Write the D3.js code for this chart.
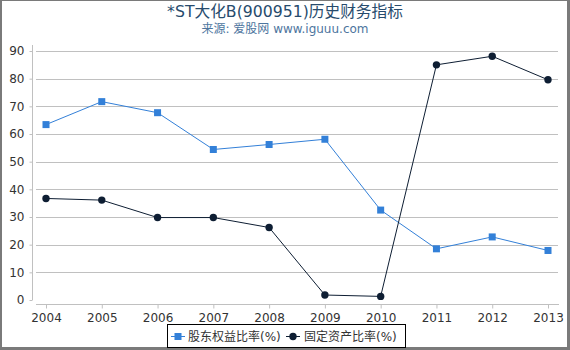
<!DOCTYPE html>
<html><head><meta charset="utf-8">
<script src="https://cdn.jsdelivr.net/npm/d3@7"></script>
<style>
html,body{margin:0;padding:0;background:#fff;}
svg{display:block;font-family:"DejaVu Sans","Noto Sans CJK SC",sans-serif;}
</style></head>
<body>
<svg id="chart" width="570" height="350"></svg>
<script>
const years = ["2004","2005","2006","2007","2008","2009","2010","2011","2012","2013"];
const equityRatio = [63.4, 71.7, 67.7, 54.4, 56.2, 58.1, 32.5, 18.5, 22.8, 17.9];
const fixedAssetRatio = [36.7, 36.1, 29.8, 29.8, 26.2, 1.8, 1.3, 85.0, 88.1, 79.6];
const yTicks = [0,10,20,30,40,50,60,70,80,90];
const seriesNames = ["股东权益比率(%)", "固定资产比率(%)"];
const titleText = "*ST大化B(900951)历史财务指标";
const subtitleText = "来源: 爱股网 www.iguuu.com";

const svg = d3.select("#chart");
const W = 570, H = 350;

// outer frame
svg.append("rect").attr("x",0.5).attr("y",0.5).attr("width",W-2).attr("height",H-2.5)
  .attr("fill","none").attr("stroke","#7a7a7a").attr("stroke-width",1);
svg.append("rect").attr("x",W-3).attr("y",0).attr("width",3).attr("height",H).attr("fill","#7a7a7a");
svg.append("rect").attr("x",0).attr("y",H-3).attr("width",W).attr("height",3).attr("fill","#7a7a7a");
svg.append("rect").attr("x",0).attr("y",0).attr("width",2).attr("height",H).attr("fill","#7a7a7a");

// titles
svg.append("text").attr("x",285).attr("y",17).attr("text-anchor","middle")
  .attr("font-size",15.7).attr("fill","#274b6d").text(titleText);
svg.append("text").attr("x",285).attr("y",33).attr("text-anchor","middle")
  .attr("font-size",12).attr("fill","#4d759e").text(subtitleText);

const x = d3.scalePoint().domain(years).range([46, 548]);
const y = d3.scaleLinear().domain([0, 90]).range([300, 51]);

// gridlines
svg.append("g").selectAll("line").data(yTicks.filter(d=>d>0)).join("line")
  .attr("x1",36).attr("x2",558)
  .attr("y1",d=>Math.round(y(d))+0.5).attr("y2",d=>Math.round(y(d))+0.5)
  .attr("stroke","#c0c0c0").attr("stroke-width",1);

// y axis
const yAxis = svg.append("g").attr("transform","translate(32.5,0)")
  .call(d3.axisLeft(y).tickValues(yTicks).tickSize(3).tickPadding(5).tickFormat(d3.format("d")));
yAxis.select(".domain").attr("d","M0,45V300").attr("stroke","#c0c0c0");
yAxis.selectAll(".tick line").attr("stroke","#c0c0c0");
yAxis.selectAll(".tick text").attr("font-size",12).attr("fill","#333").attr("font-family","DejaVu Sans");

// x axis
const xAxis = svg.append("g").attr("transform","translate(0,304.5)")
  .call(d3.axisBottom(x).tickSize(4).tickPadding(5));
xAxis.select(".domain").attr("d","M36,0H559").attr("stroke","#c0c0c0");
xAxis.selectAll(".tick line").attr("stroke","#c0c0c0");
xAxis.selectAll(".tick text").attr("font-size",12).attr("fill","#333").attr("font-family","DejaVu Sans");

const line = d3.line().x((d,i)=>x(years[i])).y(d=>y(d));

const blue = "#3380d8", dark = "#0e1e33";

svg.append("path").datum(equityRatio).attr("d",line)
  .attr("fill","none").attr("stroke",blue).attr("stroke-width",1);
svg.append("path").datum(fixedAssetRatio).attr("d",line)
  .attr("fill","none").attr("stroke",dark).attr("stroke-width",1);

svg.append("g").selectAll("rect").data(equityRatio).join("rect")
  .attr("x",(d,i)=>x(years[i])-3.5).attr("y",d=>y(d)-3.5)
  .attr("width",7).attr("height",7).attr("fill",blue);
svg.append("g").selectAll("circle").data(fixedAssetRatio).join("circle")
  .attr("cx",(d,i)=>x(years[i])).attr("cy",d=>y(d)).attr("r",3.7).attr("fill",dark);

// legend
const lg = svg.append("g");
lg.append("rect").attr("x",167.5).attr("y",324.5).attr("width",238).attr("height",23)
  .attr("fill","#fff").attr("stroke","#000").attr("stroke-width",1);
lg.append("line").attr("x1",171).attr("x2",185).attr("y1",336.5).attr("y2",336.5).attr("stroke",blue).attr("stroke-width",1);
lg.append("rect").attr("x",174.5).attr("y",333).attr("width",7).attr("height",7).attr("fill",blue);
lg.append("text").attr("x",188).attr("y",341).attr("font-size",12).attr("fill","#333").text(seriesNames[0]);
lg.append("line").attr("x1",286).attr("x2",300).attr("y1",336.5).attr("y2",336.5).attr("stroke",dark).attr("stroke-width",1);
lg.append("circle").attr("cx",293).attr("cy",336.5).attr("r",3.7).attr("fill",dark);
lg.append("text").attr("x",304).attr("y",341).attr("font-size",12).attr("fill","#333").text(seriesNames[1]);
</script>
</body></html>
